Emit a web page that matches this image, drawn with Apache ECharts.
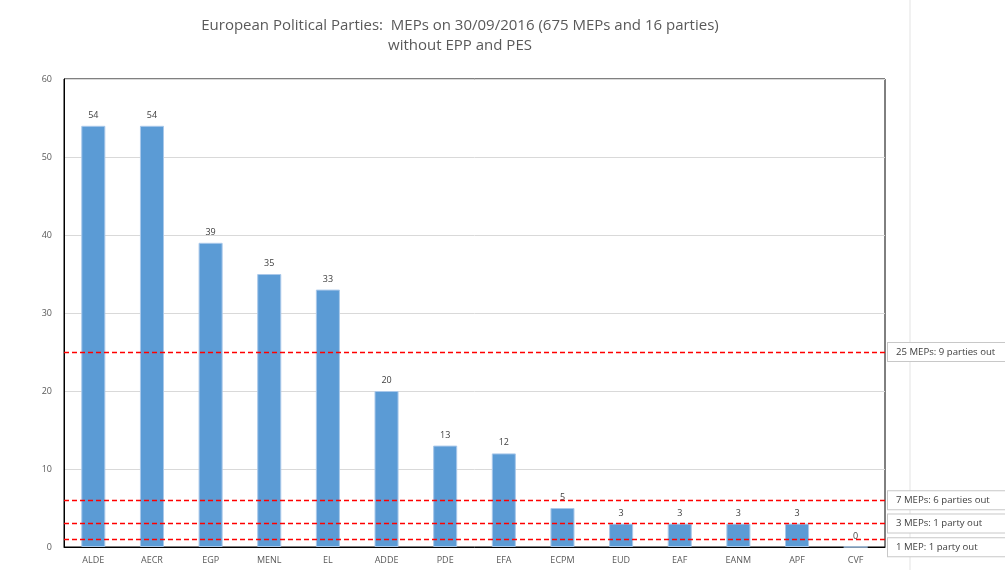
<!DOCTYPE html>
<html><head><meta charset="utf-8">
<script src="https://cdn.jsdelivr.net/npm/echarts@6/dist/echarts.min.js"></script>
<style>html,body{margin:0;padding:0;background:#fff}#c{width:1005px;height:570px}</style>
</head><body><div id="c"></div>
<script>
const categories = ['ALDE','AECR','EGP','MENL','EL','ADDE','PDE','EFA','ECPM','EUD','EAF','EANM','APF','CVF'];
const meps = [54,54,39,35,33,20,13,12,5,3,3,3,3,0];
const thresholdValues = [25,6,3,1];
const thresholdLabels = ['25 MEPs: 9 parties out','7 MEPs: 6 parties out','3 MEPs: 1 party out','1 MEP: 1 party out'];
const thresholdLabelShift = [0,0,0,8];
const yTicks = [0,10,20,30,40,50,60];

const font = '"Open Sans", sans-serif';
const chart = echarts.init(document.getElementById('c'));
chart.setOption({
  animation:false,
  title:{
    text:'European Political Parties:  MEPs on 30/09/2016 (675 MEPs and 16 parties)\nwithout EPP and PES',
    left:455, top:11, textAlign:'center',
    textStyle:{fontFamily:font,fontSize:15,fontWeight:'normal',color:'#595959',lineHeight:20}
  },
  graphic:[{type:'line',shape:{x1:910,y1:0,x2:910,y2:570},style:{stroke:'#e3e3e3',lineWidth:1}}],
  grid:{left:64,right:120,top:79,bottom:23,show:true,borderColor:'#000',borderWidth:1,backgroundColor:'transparent'},
  xAxis:{type:'category',data:categories,
    axisLine:{show:true,lineStyle:{color:'#000'}},axisTick:{show:false},
    axisLabel:{fontFamily:font,fontSize:9,color:'#595959',margin:9}},
  yAxis:{type:'value',min:0,max:60,interval:10,
    axisLine:{show:true,lineStyle:{color:'#000'}},axisTick:{show:false},
    axisLabel:{fontFamily:font,fontSize:9,color:'#595959',margin:12,
      formatter:v=>yTicks.includes(v)?String(v):''},
    splitLine:{lineStyle:{color:'#d9d9d9'}}},
  series:[{type:'bar',data:meps,barWidth:'41%',
    itemStyle:{color:'#5b9bd5',borderColor:'#a9c8ea',borderWidth:1},
    label:{show:true,position:'top',distance:6,fontFamily:font,fontSize:9,color:'#404040'},
    markLine:{symbol:'none',silent:true,
      lineStyle:{color:'#ff0000',type:[5,3],width:1.3},
      data:thresholdValues.map((v,i)=>({yAxis:v,
        label:{show:true,position:'end',formatter:thresholdLabels[i],distance:3,
          offset:[0,thresholdLabelShift[i]],
          fontFamily:font,fontSize:9.6,color:'#404040',backgroundColor:'#fff',
          borderColor:'#c8c8c8',borderWidth:1,padding:[4,40,4,8],width:110,align:'left'}}))
    }
  }]
});
</script></body></html>
